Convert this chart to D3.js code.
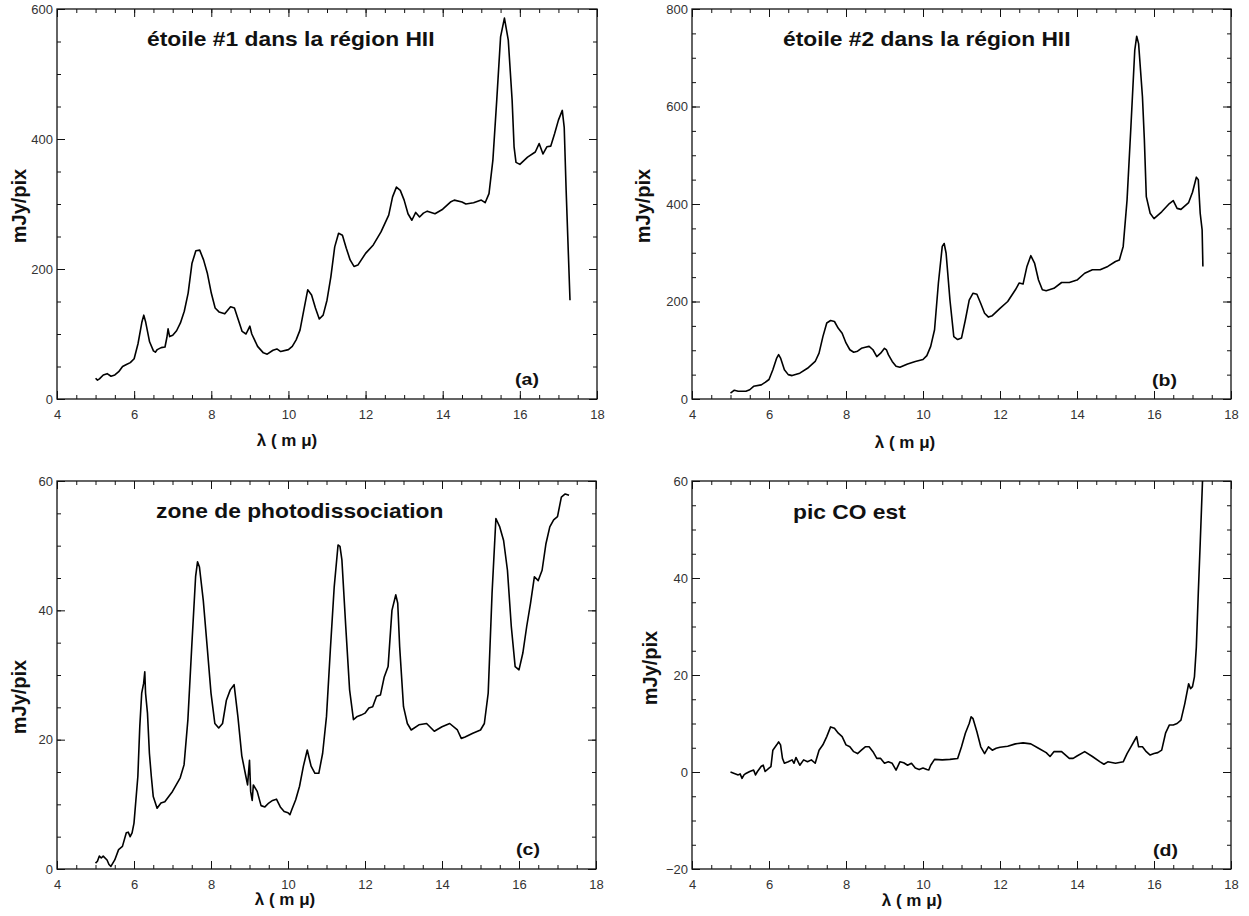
<!DOCTYPE html>
<html>
<head>
<meta charset="utf-8">
<title>Spectres 5-17 microns</title>
<script src="https://d3js.org/d3.v7.min.js"></script>
<style>
  body { margin: 0; background: #fff; }
  svg text { font-family: "Liberation Sans", Arial, Helvetica, sans-serif; }
</style>
</head>
<body>
<svg width="1249" height="916"></svg>
<script>
// graduations communes
var xTicks = [4, 6, 8, 10, 12, 14, 16, 18];
var yTicksA = [0, 200, 400, 600];
var yTicksB = [0, 200, 400, 600, 800];
var yTicksC = [0, 20, 40, 60];
var yTicksD = [-20, 0, 20, 40, 60];

// spectres : [lambda, mJy/pix]
var spectreA = [
  [5.0,32],[5.05,29],[5.1,31],[5.2,37],[5.3,39],[5.4,35],[5.5,37],[5.6,42],[5.7,50],[5.8,53],
  [5.9,56],[6.0,62],[6.1,85],[6.2,118],[6.25,129],[6.3,118],[6.4,88],[6.5,74],[6.55,72],[6.6,76],
  [6.7,79],[6.8,80],[6.85,95],[6.88,108],[6.92,96],[7.0,98],[7.1,105],[7.2,117],[7.3,135],[7.4,163],
  [7.5,209],[7.6,228],[7.7,229],[7.8,214],[7.9,193],[8.0,163],[8.1,140],[8.2,134],[8.35,131],[8.5,142],
  [8.6,140],[8.7,122],[8.8,104],[8.9,100],[8.95,106],[9.0,112],[9.05,100],[9.2,81],[9.35,71],[9.45,69],
  [9.6,75],[9.7,77],[9.8,73],[10.0,76],[10.1,81],[10.2,91],[10.3,106],[10.4,137],[10.5,168],[10.6,160],
  [10.7,140],[10.8,123],[10.9,129],[11.0,152],[11.1,188],[11.2,234],[11.3,255],[11.4,252],[11.5,232],[11.6,214],
  [11.7,204],[11.8,206],[12.0,224],[12.2,237],[12.4,257],[12.6,283],[12.7,311],[12.8,326],[12.9,321],[13.0,306],
  [13.1,285],[13.2,275],[13.3,287],[13.4,280],[13.5,286],[13.6,289],[13.8,285],[14.0,292],[14.2,303],[14.3,306],
  [14.5,303],[14.6,300],[14.8,302],[15.0,306],[15.1,302],[15.2,316],[15.3,367],[15.4,459],[15.5,557],[15.6,586],
  [15.7,552],[15.8,459],[15.85,388],[15.9,364],[16.0,361],[16.2,372],[16.4,380],[16.5,393],[16.6,377],[16.7,388],
  [16.8,389],[16.9,408],[17.0,429],[17.1,444],[17.15,418],[17.2,321],[17.3,152]
];
var spectreB = [
  [5.0,12],[5.1,18],[5.2,16],[5.4,16],[5.5,19],[5.6,26],[5.8,29],[5.9,34],[6.0,40],[6.1,60],
  [6.2,84],[6.25,91],[6.3,84],[6.4,60],[6.5,50],[6.6,48],[6.8,53],[7.0,63],[7.2,77],[7.3,94],
  [7.4,128],[7.5,156],[7.6,161],[7.7,159],[7.8,145],[7.9,135],[8.0,115],[8.1,101],[8.2,96],[8.3,98],
  [8.4,104],[8.5,106],[8.6,108],[8.7,101],[8.8,87],[8.9,94],[9.0,104],[9.05,101],[9.1,91],[9.2,77],
  [9.3,67],[9.4,65],[9.6,72],[9.8,77],[10.0,81],[10.1,89],[10.2,108],[10.3,142],[10.4,238],[10.5,313],
  [10.55,319],[10.6,299],[10.7,203],[10.8,128],[10.9,122],[11.0,125],[11.1,162],[11.2,203],[11.3,217],[11.4,215],
  [11.5,196],[11.6,176],[11.7,168],[11.8,171],[12.0,186],[12.2,200],[12.4,224],[12.5,238],[12.6,236],[12.7,272],
  [12.8,294],[12.9,278],[13.0,244],[13.1,224],[13.2,222],[13.4,227],[13.6,239],[13.8,239],[14.0,244],[14.2,258],
  [14.4,265],[14.6,265],[14.8,272],[15.0,282],[15.1,285],[15.2,313],[15.3,408],[15.4,558],[15.5,715],[15.55,744],
  [15.6,729],[15.7,620],[15.75,531],[15.8,415],[15.9,381],[16.0,370],[16.2,384],[16.4,401],[16.5,407],[16.6,391],
  [16.7,389],[16.9,403],[17.0,424],[17.1,455],[17.15,450],[17.2,381],[17.25,347],[17.27,272]
];
var spectreC = [
  [5.0,0.9],[5.05,1.2],[5.1,2.0],[5.15,1.7],[5.2,2.0],[5.3,1.4],[5.35,0.7],[5.4,0.4],[5.45,0.9],[5.5,1.4],
  [5.6,3.0],[5.7,3.5],[5.8,5.6],[5.85,5.7],[5.9,5.0],[5.95,5.6],[6.0,7.1],[6.1,14.3],[6.15,22.0],[6.2,27.2],
  [6.25,28.7],[6.28,30.5],[6.3,27.2],[6.35,24.1],[6.4,17.9],[6.45,14.3],[6.5,11.2],[6.6,9.4],[6.7,10.2],[6.8,10.4],
  [7.0,12.0],[7.2,14.1],[7.3,16.1],[7.4,23.1],[7.5,34.4],[7.6,45.2],[7.65,47.5],[7.7,46.7],[7.8,41.5],[7.9,34.4],
  [8.0,27.2],[8.1,22.5],[8.2,21.8],[8.3,22.5],[8.4,26.1],[8.5,27.7],[8.6,28.5],[8.7,23.5],[8.8,17.5],[8.9,14.5],
  [8.95,13.0],[9.0,16.8],[9.03,12.0],[9.07,10.6],[9.1,13.0],[9.2,12.0],[9.3,9.8],[9.4,9.6],[9.5,10.2],[9.6,10.6],
  [9.7,10.8],[9.8,9.6],[9.9,8.9],[10.0,8.7],[10.05,8.4],[10.1,9.2],[10.2,10.7],[10.3,12.8],[10.4,15.9],[10.5,18.4],
  [10.6,15.9],[10.7,14.8],[10.8,14.8],[10.9,17.9],[11.0,23.6],[11.1,33.9],[11.2,43.6],[11.3,50.1],[11.35,49.9],[11.4,47.8],
  [11.5,37.5],[11.6,27.7],[11.7,23.1],[11.8,23.6],[11.9,23.8],[12.0,24.1],[12.1,24.9],[12.2,25.1],[12.3,26.7],[12.4,26.9],
  [12.5,29.7],[12.6,31.3],[12.7,40.0],[12.8,42.4],[12.85,41.1],[12.9,34.4],[13.0,25.1],[13.1,22.5],[13.2,21.5],[13.4,22.3],
  [13.6,22.5],[13.8,21.3],[14.0,22.0],[14.2,22.5],[14.4,21.5],[14.5,20.2],[14.6,20.4],[14.8,21.0],[15.0,21.5],[15.1,22.5],
  [15.2,27.2],[15.3,42.6],[15.4,54.2],[15.5,52.9],[15.6,50.8],[15.7,46.2],[15.8,37.5],[15.9,31.3],[16.0,30.8],[16.1,33.4],
  [16.2,37.5],[16.3,41.1],[16.4,45.2],[16.5,44.6],[16.6,46.2],[16.7,50.3],[16.8,52.9],[16.9,54.0],[17.0,54.5],[17.1,57.5],
  [17.2,58.0],[17.3,57.8]
];
var spectreD = [
  [5.0,0.0],[5.1,-0.3],[5.2,-0.6],[5.25,-0.4],[5.3,-1.3],[5.35,-0.6],[5.4,-0.3],[5.5,0.1],[5.6,0.4],[5.65,-0.6],
  [5.7,0.1],[5.8,1.2],[5.85,1.4],[5.9,0.1],[6.0,0.8],[6.05,1.1],[6.1,4.5],[6.2,5.6],[6.25,6.2],[6.3,5.6],
  [6.35,2.8],[6.4,1.8],[6.5,2.1],[6.6,2.5],[6.65,1.8],[6.7,3.0],[6.8,1.4],[6.9,2.5],[7.0,2.1],[7.1,2.5],
  [7.2,1.8],[7.3,4.5],[7.4,5.6],[7.5,7.3],[7.6,9.3],[7.7,9.0],[7.8,8.0],[7.9,7.3],[8.0,5.6],[8.1,5.2],
  [8.2,4.2],[8.3,3.8],[8.4,4.5],[8.5,5.2],[8.6,5.2],[8.7,4.2],[8.8,2.8],[8.9,2.8],[9.0,1.8],[9.1,2.1],
  [9.2,1.8],[9.3,0.4],[9.4,2.1],[9.5,1.9],[9.6,1.4],[9.7,1.8],[9.8,0.8],[9.9,0.5],[10.0,0.8],[10.1,0.5],
  [10.15,0.4],[10.2,1.4],[10.3,2.6],[10.5,2.5],[10.7,2.6],[10.9,2.8],[11.0,5.2],[11.1,8.0],[11.2,10.0],[11.25,11.4],
  [11.3,11.0],[11.4,8.3],[11.5,5.2],[11.6,3.8],[11.7,5.2],[11.8,4.5],[11.9,4.9],[12.0,5.1],[12.2,5.3],[12.4,5.8],
  [12.6,6.0],[12.8,5.8],[13.0,4.9],[13.2,4.0],[13.3,3.2],[13.4,4.2],[13.6,4.2],[13.8,2.8],[13.9,2.8],[14.0,3.3],
  [14.2,4.2],[14.4,3.2],[14.6,2.1],[14.7,1.6],[14.8,2.1],[15.0,1.8],[15.2,2.1],[15.3,3.8],[15.4,5.2],[15.5,6.6],
  [15.55,7.3],[15.6,5.2],[15.7,5.2],[15.8,4.2],[15.9,3.5],[16.0,3.8],[16.1,4.0],[16.2,4.5],[16.3,8.0],[16.4,9.7],
  [16.5,9.7],[16.6,10.0],[16.7,10.7],[16.8,14.1],[16.9,18.2],[16.95,17.2],[17.0,17.6],[17.05,19.6],[17.1,25.8],[17.15,36.8],
  [17.2,47.1],[17.26,60.0]
];

var titres = ["étoile #1 dans la région HII", "étoile #2 dans la région HII", "zone de photodissociation", "pic CO est"];
var lettres = ["(a)", "(b)", "(c)", "(d)"];

var svg = d3.select("svg");

var panneaux = [
  { data: spectreA, yTicks: yTicksA, yMinor: 50, left: 57, right: 597, top: 9, bottom: 399,
    titre: [147, 46], lettre: [539, 385], xLab: [287, 446], yLab: [19, 206] },
  { data: spectreB, yTicks: yTicksB, yMinor: 50, left: 692, right: 1231, top: 9, bottom: 399,
    titre: [783, 46], lettre: [1177, 386], xLab: [905, 448], yLab: [643, 206] },
  { data: spectreC, yTicks: yTicksC, yMinor: 5, left: 57, right: 596, top: 481, bottom: 869,
    titre: [156, 518], lettre: [540, 855], xLab: [285, 905], yLab: [19, 697] },
  { data: spectreD, yTicks: yTicksD, yMinor: 5, left: 692, right: 1231, top: 481, bottom: 869,
    titre: [793, 519], lettre: [1178, 856], xLab: [912, 906], yLab: [650, 668] }
];

function styleAxe(sel) {
  sel.attr("color", "#111").attr("font-size", 13).attr("font-family", null);
  sel.select(".domain").remove();
  sel.selectAll("text").attr("fill", "#333");
}

panneaux.forEach(function(p, i) {
  var g = svg.append("g");
  var yMin = p.yTicks[0], yMax = p.yTicks[p.yTicks.length - 1];
  var x = d3.scaleLinear().domain([4, 18]).range([p.left, p.right]);
  var y = d3.scaleLinear().domain([yMin, yMax]).range([p.bottom, p.top]);

  var xMinor = d3.range(4, 18.001, 0.5);
  var yMinor = d3.range(yMin, yMax + 1e-6, p.yMinor);

  // petites graduations (vers l'intérieur)
  g.append("g").attr("transform", "translate(0," + p.bottom + ")")
    .call(d3.axisBottom(x).tickValues(xMinor).tickSize(-4).tickFormat("")).call(styleAxe);
  g.append("g").attr("transform", "translate(0," + p.top + ")")
    .call(d3.axisTop(x).tickValues(xMinor).tickSize(-4).tickFormat("")).call(styleAxe);
  g.append("g").attr("transform", "translate(" + p.left + ",0)")
    .call(d3.axisLeft(y).tickValues(yMinor).tickSize(-4).tickFormat("")).call(styleAxe);
  g.append("g").attr("transform", "translate(" + p.right + ",0)")
    .call(d3.axisRight(y).tickValues(yMinor).tickSize(-4).tickFormat("")).call(styleAxe);

  // graduations principales
  g.append("g").attr("transform", "translate(0," + p.bottom + ")")
    .call(d3.axisBottom(x).tickValues(xTicks).tickSize(-8).tickPadding(11).tickFormat(d3.format("d"))).call(styleAxe);
  g.append("g").attr("transform", "translate(0," + p.top + ")")
    .call(d3.axisTop(x).tickValues(xTicks).tickSize(-8).tickFormat("")).call(styleAxe);
  g.append("g").attr("transform", "translate(" + p.left + ",0)")
    .call(d3.axisLeft(y).tickValues(p.yTicks).tickSize(-8).tickPadding(4).tickFormat(d3.format("d"))).call(styleAxe);
  g.append("g").attr("transform", "translate(" + p.right + ",0)")
    .call(d3.axisRight(y).tickValues(p.yTicks).tickSize(-8).tickFormat("")).call(styleAxe);

  // cadre
  g.append("rect")
    .attr("x", p.left).attr("y", p.top)
    .attr("width", p.right - p.left).attr("height", p.bottom - p.top)
    .attr("fill", "none").attr("stroke", "#111").attr("stroke-width", 1.3);

  // spectre
  var line = d3.line()
    .x(function(d) { return x(d[0]); })
    .y(function(d) { return y(d[1]); });
  g.append("path")
    .datum(p.data)
    .attr("d", line)
    .attr("fill", "none")
    .attr("stroke", "#000")
    .attr("stroke-width", 1.6)
    .attr("stroke-linejoin", "round");

  // textes
  g.append("text")
    .attr("transform", "translate(" + p.titre[0] + "," + p.titre[1] + ") scale(1.14,1)")
    .attr("font-size", 20).attr("font-weight", "bold").attr("fill", "#111")
    .text(titres[i]);
  g.append("text")
    .attr("transform", "translate(" + p.lettre[0] + "," + p.lettre[1] + ") scale(1.15,1)")
    .attr("text-anchor", "end")
    .attr("font-size", 17).attr("font-weight", "bold").attr("fill", "#111")
    .text(lettres[i]);
  g.append("text")
    .attr("x", p.xLab[0]).attr("y", p.xLab[1])
    .attr("text-anchor", "middle")
    .attr("font-size", 17).attr("font-weight", "bold").attr("fill", "#111")
    .text("λ ( m μ)");
  g.append("text")
    .attr("transform", "translate(" + p.yLab[0] + "," + p.yLab[1] + ") rotate(-90)")
    .attr("text-anchor", "middle").attr("dominant-baseline", "central")
    .attr("font-size", 20).attr("font-weight", "bold").attr("fill", "#111")
    .text("mJy/pix");
});
</script>
</body>
</html>
